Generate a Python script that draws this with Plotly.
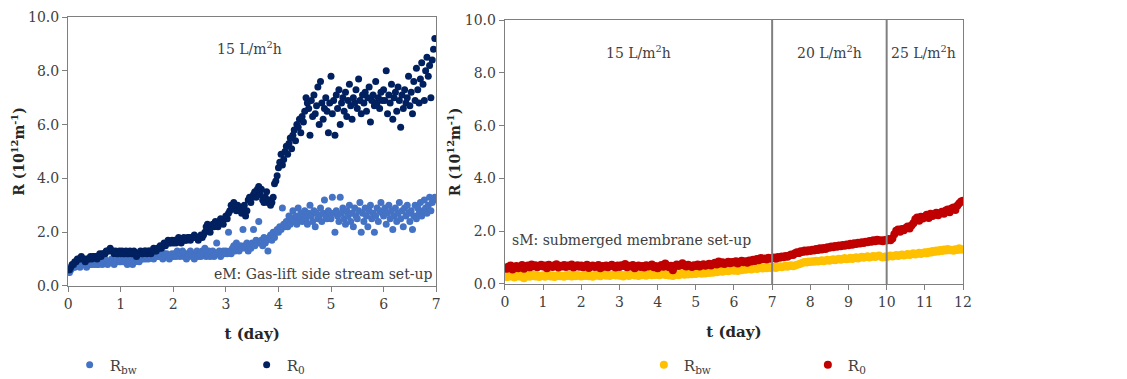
import numpy as np
import plotly.graph_objects as go

# ---------------- data ----------------
# Left panel (eM: gas-lift side stream), sampling every 0.025 day
eM_step = 0.025
eM_R0 = [
    0.6,0.6,0.7,0.8,0.8,0.9,0.9,1.0,1.0,1.0,1.1,1.0,1.0,0.9,1.0,1.0,1.0,1.1,1.0,1.1,
    1.1,1.1,1.0,1.1,1.2,1.1,1.2,1.2,1.2,1.3,1.3,1.3,1.4,1.3,1.3,1.2,1.3,1.2,1.2,1.3,
    1.2,1.3,1.2,1.2,1.3,1.2,1.2,1.3,1.2,1.2,1.3,1.2,1.1,1.2,1.2,1.3,1.2,1.2,1.3,1.3,
    1.2,1.3,1.3,1.2,1.3,1.4,1.3,1.3,1.4,1.4,1.5,1.4,1.5,1.6,1.5,1.6,1.7,1.6,1.6,1.7,
    1.6,1.7,1.6,1.7,1.8,1.7,1.6,1.7,1.8,1.7,1.7,1.8,1.8,1.7,1.8,1.8,1.9,1.8,1.8,1.7,
    1.8,1.9,1.8,1.9,2.0,2.2,2.3,2.1,2.0,2.2,2.3,2.2,2.4,2.3,2.2,2.4,2.5,2.4,2.3,2.5,
    2.6,2.5,2.7,2.8,3.0,2.9,3.1,2.9,2.8,3.0,2.9,2.8,2.7,2.9,3.0,2.6,2.8,3.2,3.3,3.1,
    3.3,3.4,3.5,3.3,3.6,3.7,3.4,3.6,3.2,3.1,3.3,3.5,3.1,3.2,3.0,3.1,3.3,3.8,3.9,4.1,
    4.4,4.6,4.9,4.5,4.7,5.0,5.2,4.9,5.3,5.5,5.1,5.6,5.8,5.4,6.0,5.9,6.2,5.7,6.3,6.1,
    6.5,7.0,6.8,6.6,5.6,6.9,6.3,7.1,6.4,6.7,7.4,6.0,7.6,6.8,6.2,6.6,7.0,6.5,5.7,6.8,
    7.8,6.4,6.9,5.6,7.1,6.6,7.3,6.0,6.8,7.0,6.5,7.2,6.3,6.9,7.5,6.7,6.2,7.0,6.8,7.3,
    6.6,7.7,6.9,6.4,7.1,6.8,7.2,6.5,7.0,7.4,6.1,6.9,7.1,6.7,7.6,6.8,7.0,6.6,7.2,6.9,
    7.3,6.9,8.0,6.4,7.1,6.8,7.5,6.2,7.0,7.2,6.5,7.4,6.9,5.9,7.1,6.6,7.3,6.8,7.0,7.8,
    6.7,7.2,6.4,7.6,6.9,8.1,7.3,6.8,7.7,8.3,7.5,6.9,8.0,8.5,7.8,8.2,7.0,8.4,8.8,9.2,
]
eM_Rbw = [
    0.5,0.5,0.6,0.7,0.7,0.7,0.8,0.8,0.8,0.7,0.8,0.8,0.9,0.8,0.7,0.8,0.9,0.8,0.8,0.9,
    0.8,0.9,0.8,0.8,0.9,0.9,0.8,0.9,1.0,0.9,0.8,0.9,0.9,1.0,0.9,0.8,0.9,0.9,1.0,0.9,
    0.9,1.0,0.9,0.9,1.0,0.8,0.9,1.0,0.9,0.8,1.0,0.9,1.0,1.0,0.9,1.1,1.0,1.0,1.1,1.0,
    1.1,1.0,1.1,1.2,1.1,1.0,1.1,1.2,1.1,1.1,1.2,1.1,1.0,1.2,1.1,1.2,1.1,1.0,1.1,1.2,
    1.1,1.2,1.1,1.3,1.2,1.1,1.2,1.3,1.1,1.2,1.0,1.2,1.1,1.3,1.2,1.1,1.0,1.2,1.3,1.1,
    1.2,1.1,1.3,1.2,1.4,1.1,1.2,1.3,1.1,1.2,1.3,1.1,1.2,1.6,1.2,1.3,1.1,1.2,1.3,1.2,
    1.3,1.2,2.0,1.3,1.2,1.4,1.5,1.3,1.6,1.4,1.3,1.5,1.4,2.1,1.5,1.4,1.6,1.3,1.5,1.4,
    1.6,2.1,1.5,1.7,1.6,2.4,1.6,1.7,1.5,1.8,1.6,1.7,1.3,1.8,1.9,1.7,2.0,1.8,2.0,2.1,
    2.0,2.2,2.1,2.9,2.3,2.2,2.4,2.2,2.6,2.3,2.5,2.8,2.4,2.6,2.3,2.9,2.5,2.7,2.4,2.6,
    2.8,2.5,2.3,2.7,3.0,2.6,2.4,2.8,2.2,2.7,2.5,2.6,2.9,2.4,2.7,3.2,2.6,2.5,2.8,2.7,
    2.5,3.3,2.7,2.0,2.8,2.6,2.4,3.3,2.7,2.9,2.5,2.3,2.8,2.6,3.0,2.4,2.7,2.2,2.9,2.6,
    2.5,2.8,3.1,2.0,2.7,2.4,2.9,2.6,2.2,2.8,3.0,2.5,2.7,2.0,2.6,2.9,2.4,2.8,3.1,2.7,
    2.6,2.9,2.3,2.7,3.0,2.5,2.8,2.1,2.6,2.9,2.4,2.7,3.1,2.5,2.8,2.2,2.9,2.6,3.0,2.7,
    2.4,2.8,2.1,2.6,3.0,2.5,2.9,2.7,3.1,2.6,2.8,3.2,2.9,2.7,3.0,3.3,2.8,3.1,3.2,3.3,
]

# Right panel (sM: submerged membrane), sampling every 0.05 day
sM_step = 0.05
sM_R0 = [
    0.62,0.58,0.66,0.70,0.55,0.63,0.68,0.60,0.65,0.72,0.58,0.66,0.70,0.62,0.74,0.67,0.71,0.63,0.69,0.73,
    0.66,0.70,0.60,0.73,0.68,0.64,0.71,0.75,0.62,0.69,0.66,0.72,0.64,0.70,0.67,0.74,0.62,0.68,0.71,0.65,
    0.70,0.63,0.68,0.73,0.61,0.67,0.70,0.64,0.66,0.72,0.60,0.68,0.65,0.70,0.63,0.69,0.73,0.66,0.62,0.70,
    0.64,0.71,0.68,0.76,0.63,0.69,0.66,0.72,0.60,0.67,0.70,0.64,0.68,0.62,0.71,0.66,0.69,0.74,0.63,0.68,
    0.60,0.66,0.72,0.65,0.78,0.70,0.63,0.69,0.52,0.67,0.74,0.68,0.72,0.79,0.70,0.66,0.73,0.69,0.64,0.71,
    0.68,0.74,0.66,0.71,0.75,0.69,0.73,0.77,0.70,0.76,0.80,0.74,0.85,0.78,0.82,0.76,0.80,0.84,0.79,0.83,
    0.81,0.86,0.78,0.84,0.88,0.82,0.86,0.80,0.89,0.85,0.92,0.87,0.95,0.90,0.98,0.94,0.97,0.93,0.99,0.96,
    0.98,1.00,0.96,1.02,0.99,1.04,1.01,1.06,1.03,1.08,1.12,1.10,1.16,1.20,1.17,1.24,1.21,1.27,1.23,1.28,
    1.25,1.30,1.27,1.33,1.29,1.35,1.31,1.36,1.33,1.39,1.37,1.42,1.39,1.44,1.41,1.46,1.43,1.48,1.45,1.50,
    1.47,1.52,1.49,1.54,1.51,1.56,1.53,1.58,1.55,1.60,1.58,1.63,1.60,1.66,1.62,1.68,1.64,1.66,1.62,1.67,
    1.65,1.70,1.66,1.72,1.88,2.02,2.06,1.98,2.08,2.04,2.12,2.18,2.10,2.22,2.30,2.45,2.52,2.40,2.55,2.48,
    2.56,2.62,2.50,2.66,2.58,2.64,2.70,2.60,2.68,2.74,2.66,2.78,2.82,2.72,2.86,2.90,2.80,2.96,3.05,3.12,
    3.15,
]
sM_Rbw = [
    0.30,0.26,0.34,0.28,0.32,0.25,0.30,0.35,0.27,0.31,0.22,0.29,0.33,0.27,0.31,0.36,0.28,0.32,0.26,0.30,
    0.33,0.27,0.31,0.35,0.28,0.32,0.26,0.30,0.34,0.29,0.31,0.27,0.33,0.30,0.36,0.28,0.32,0.29,0.34,0.31,
    0.28,0.33,0.30,0.36,0.29,0.32,0.27,0.34,0.31,0.35,0.29,0.33,0.38,0.31,0.35,0.30,0.34,0.37,0.32,0.36,
    0.31,0.35,0.28,0.33,0.37,0.30,0.34,0.38,0.32,0.36,0.30,0.35,0.33,0.37,0.31,0.36,0.39,0.33,0.37,0.34,
    0.38,0.33,0.36,0.40,0.34,0.37,0.32,0.36,0.30,0.35,0.38,0.33,0.37,0.41,0.35,0.39,0.36,0.40,0.37,0.42,
    0.38,0.41,0.44,0.39,0.43,0.40,0.45,0.42,0.46,0.43,0.48,0.44,0.47,0.50,0.46,0.49,0.52,0.48,0.51,0.54,
    0.50,0.53,0.49,0.55,0.52,0.57,0.54,0.56,0.59,0.55,0.58,0.61,0.57,0.60,0.63,0.59,0.62,0.60,0.64,0.61,
    0.62,0.65,0.61,0.64,0.67,0.63,0.66,0.69,0.65,0.68,0.71,0.67,0.70,0.73,0.75,0.78,0.80,0.83,0.81,0.85,
    0.83,0.86,0.84,0.88,0.85,0.87,0.90,0.86,0.89,0.92,0.88,0.91,0.94,0.90,0.93,0.96,0.92,0.95,0.98,0.94,
    0.96,0.99,0.95,0.98,1.01,0.97,1.00,1.03,0.99,1.02,1.05,1.00,1.03,1.06,1.02,1.05,1.08,1.03,1.00,1.04,
    1.02,1.05,1.08,1.04,1.07,1.10,1.06,1.09,1.12,1.08,1.11,1.14,1.10,1.13,1.16,1.12,1.15,1.18,1.14,1.17,
    1.20,1.16,1.22,1.19,1.25,1.21,1.27,1.23,1.29,1.25,1.31,1.27,1.33,1.28,1.30,1.26,1.32,1.29,1.35,1.30,
    1.32,
]

eM_t = np.arange(len(eM_R0)) * eM_step
sM_t = np.arange(len(sM_R0)) * sM_step

flux_change_days = [7, 10]
y_ticks = [0, 2, 4, 6, 8, 10]
y_tick_labels = ["0.0", "2.0", "4.0", "6.0", "8.0", "10.0"]

# ---------------- figure ----------------
FONT = "DejaVu Serif"
AX = "#7f7f7f"
TXT = "#404040"
TITLE = "#262626"

fig = go.Figure()

fig.add_trace(go.Scatter(x=eM_t, y=eM_Rbw, mode="markers", name="R<sub>bw</sub>",
                         marker=dict(color="#4472C4", size=7), xaxis="x", yaxis="y",
                         legend="legend"))
fig.add_trace(go.Scatter(x=eM_t, y=eM_R0, mode="markers", name="R<sub>0</sub>",
                         marker=dict(color="#002060", size=7), xaxis="x", yaxis="y",
                         legend="legend"))
fig.add_trace(go.Scatter(x=sM_t, y=sM_Rbw, mode="markers", name="R<sub>bw</sub>",
                         marker=dict(color="#FFC000", size=8), xaxis="x2", yaxis="y2",
                         legend="legend2"))
fig.add_trace(go.Scatter(x=sM_t, y=sM_R0, mode="markers", name="R<sub>0</sub>",
                         marker=dict(color="#C00000", size=8), xaxis="x2", yaxis="y2",
                         legend="legend2"))

for d in flux_change_days:
    fig.add_shape(type="line", xref="x2", yref="y2 domain", x0=d, x1=d, y0=0, y1=1,
                  line=dict(color="#808080", width=2), layer="above")

axis_common = dict(showgrid=False, zeroline=False, showline=True, linecolor=AX,
                   linewidth=1.3, mirror=True, ticks="outside", ticklen=5,
                   tickcolor=AX, automargin=False,
                   tickfont=dict(family=FONT, size=14, color=TXT))

ytitle = dict(text="<b>R (10<sup>12</sup>m<sup>-1</sup>)</b>",
              font=dict(family=FONT, size=14, color=TITLE), standoff=0)
xtitle = dict(text="<b>t (day)</b>", font=dict(family=FONT, size=15, color=TITLE),
              standoff=17)

fig.update_layout(
    width=1127, height=379,
    margin=dict(l=0, r=0, t=0, b=0, autoexpand=False),
    plot_bgcolor="white", paper_bgcolor="white",
    xaxis=dict(domain=[0.0605, 0.387], range=[0, 7], tickvals=list(range(0, 8)),
               title=xtitle, anchor="y", **axis_common),
    yaxis=dict(domain=[0.2454, 0.9551], range=[0, 10], tickvals=y_ticks,
               ticktext=y_tick_labels, title=ytitle, anchor="x", **axis_common),
    xaxis2=dict(domain=[0.448, 0.8545], range=[0, 12], tickvals=list(range(0, 13)),
                title=xtitle, anchor="y2", **axis_common),
    yaxis2=dict(domain=[0.2507, 0.9472], range=[0, 10], tickvals=y_ticks,
                ticktext=y_tick_labels, title=ytitle, anchor="x2", **axis_common),
    legend=dict(orientation="h", x=0.0618, y=0.037, xanchor="left", yanchor="middle",
                entrywidth=132, font=dict(family=FONT, size=15, color=TXT),
                bgcolor="rgba(0,0,0,0)"),
    legend2=dict(orientation="h", x=0.5713, y=0.037, xanchor="left", yanchor="middle",
                 entrywidth=119, font=dict(family=FONT, size=15, color=TXT),
                 bgcolor="rgba(0,0,0,0)"),
)

ann_font = dict(family=FONT, size=14, color=TXT)
fig.add_annotation(x=3.45, y=8.85, xref="x", yref="y", text="15 L/m<sup>2</sup>h",
                   showarrow=False, font=ann_font)
fig.add_annotation(x=6.98, y=0.45, xref="x", yref="y", text="eM: Gas-lift side stream set-up",
                   showarrow=False, xanchor="right", font=ann_font)
fig.add_annotation(x=3.5, y=8.8, xref="x2", yref="y2", text="15 L/m<sup>2</sup>h",
                   showarrow=False, font=ann_font)
fig.add_annotation(x=8.5, y=8.8, xref="x2", yref="y2", text="20 L/m<sup>2</sup>h",
                   showarrow=False, font=ann_font)
fig.add_annotation(x=10.97, y=8.8, xref="x2", yref="y2", text="25 L/m<sup>2</sup>h",
                   showarrow=False, font=ann_font)
fig.add_annotation(x=0.13, y=1.65, xref="x2", yref="y2", text="sM: submerged membrane set-up",
                   showarrow=False, xanchor="left", font=ann_font)

fig.write_html("out.html", config={"displayModeBar": False},
               post_script="document.body.style.margin='0';")
